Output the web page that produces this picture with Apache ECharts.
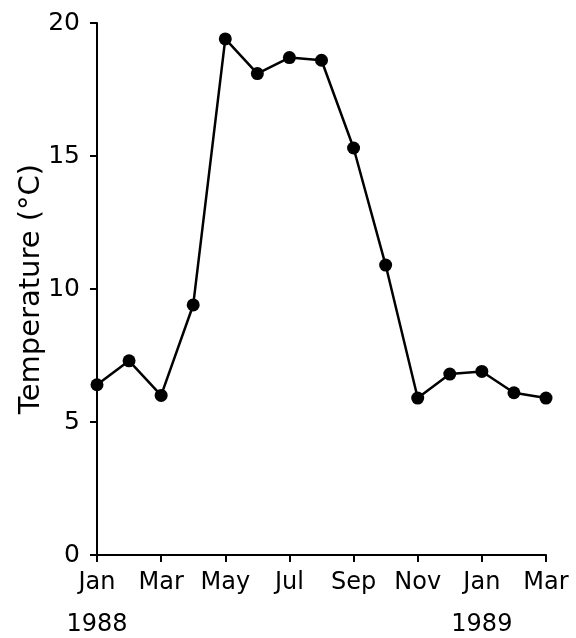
<!DOCTYPE html>
<html><head><meta charset="utf-8">
<script src="https://cdn.jsdelivr.net/npm/echarts@6/dist/echarts.min.js"></script>
<style>html,body{margin:0;padding:0;background:#fff}#c{width:576px;height:638px}</style>
</head><body><div id="c"></div>
<script>
var months = ['Jan\n1988','Feb','Mar','Apr','May','Jun','Jul','Aug','Sep','Oct','Nov','Dec','Jan\n1989','Feb','Mar'];
var temperature = [6.4, 7.3, 6.0, 9.4, 19.4, 18.1, 18.7, 18.6, 15.3, 10.9, 5.9, 6.8, 6.9, 6.1, 5.9];
var yTicks = [0, 5, 10, 15, 20];
var yTitle = 'Temperature (°C)';

var chart = echarts.init(document.getElementById('c'), null, {renderer:'canvas'});
var font = 'DejaVu Sans';
chart.setOption({
  animation:false,
  backgroundColor:'#fff',
  grid:{left:97, right:30, top:23, bottom:83, containLabel:false, outerBoundsMode:'none'},
  xAxis:{
    type:'category', data:months, boundaryGap:false,
    axisLine:{lineStyle:{color:'#000', width:2}},
    axisTick:{interval:1, length:7, lineStyle:{color:'#000', width:2}},
    axisLabel:{interval:1, color:'#000', fontFamily:font, fontSize:24, lineHeight:42, margin:7},
    splitLine:{show:false}
  },
  yAxis:{
    type:'value', min:yTicks[0], max:yTicks[yTicks.length-1], interval:5,
    name:yTitle, nameLocation:'middle', nameGap:51, nameRotate:90, nameMoveOverlap:false,
    nameTextStyle:{color:'#000', fontFamily:font, fontSize:29},
    axisLine:{show:true, lineStyle:{color:'#000', width:2}},
    axisTick:{show:true, length:7, lineStyle:{color:'#000', width:2}},
    axisLabel:{color:'#000', fontFamily:font, fontSize:25, margin:17},
    splitLine:{show:false}
  },
  series:[{
    type:'line', data:temperature, symbol:'circle', symbolSize:13,
    itemStyle:{color:'#000'}, lineStyle:{color:'#000', width:2.5}
  }]
});
</script></body></html>
